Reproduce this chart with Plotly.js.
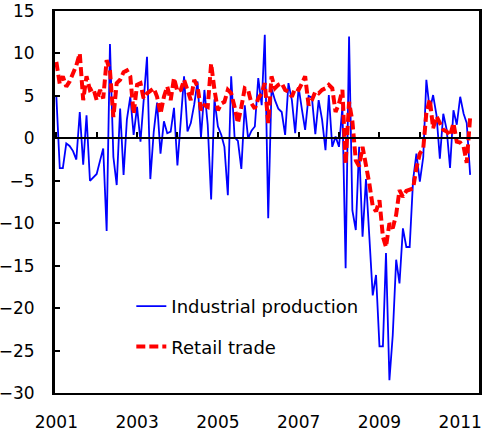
<!DOCTYPE html>
<html><head><meta charset="utf-8">
<script src="https://cdn.plot.ly/plotly-3.0.1.min.js"></script>
<style>html,body{margin:0;padding:0;background:#fff}#chart{width:485px;height:435px}</style>
</head><body><div id="chart"></div>
<script>
// Monthly series, Jan 2001 onwards (year-on-year % change)
const startYear = 2001;
const industrialProduction = [
  5.0, -3.5, -3.5, -0.6, -0.9, -1.5, -2.5, 3.1, -3.1, 2.7, -5.0, -4.6,
  -4.2, -2.6, -1.2, -10.9, 11.1, -2.2, -5.5, 3.5, -4.3, 2.2, 4.9, 0.4,
  3.7, -0.4, 4.1, 9.6, -4.8, 0.8, 4.2, -1.8, 2.0, 0.6, 0.8, 3.6,
  -3.2, 2.5, 7.3, 0.8, 1.8, 4.0, 6.7, 0.1, 5.7, 1.6, -7.2, 4.6,
  1.4, 0.4, -1.0, -6.7, 7.3, 0.1, -0.3, -3.6, 3.9, 0.0, 0.9, 1.4,
  7.1, 3.9, 12.2, -9.4, 5.9, 4.5, 3.5, 3.1, 0.4, 6.5, 4.5, 0.6,
  6.0, 3.3, 1.0, 5.0, 4.8, 0.5, 4.5, 2.2, -1.4, 5.1, -1.0, 0.2,
  -1.0, 3.7, -15.3, 12.0, -8.5, -10.8, -1.0, -11.6, -4.8, -11.5, -18.5, -16.1,
  -24.5, -24.5, -13.5, -28.5, -23.2, -14.3, -17.1, -10.6, -12.8, -12.8, -4.9, -1.8,
  -5.1, -2.2, 6.9, 3.3, 5.1, 2.7, -2.4, 2.9, 1.0, -3.5, 3.3, 1.6,
  4.9, 2.9, 1.8, -4.3
];
const retailTrade = [
  9.0, 6.4, 7.3, 6.1, 6.7, 7.6, 8.6, 10.0, 4.5, 7.3, 5.7, 5.9,
  4.5, 5.7, 4.7, 9.2, 8.0, 2.5, 6.5, 6.9, 7.8, 8.0, 7.3, 2.9,
  6.3, 6.5, 4.7, 5.3, 5.6, 5.9, 4.9, 2.9, 4.9, 6.1, 4.5, 7.1,
  5.5, 5.7, 6.9, 5.7, 4.5, 6.9, 6.1, 3.3, 3.9, 3.7, 8.8, 5.7,
  3.3, 4.1, 4.3, 5.7, 5.3, 3.7, 1.8, 3.7, 5.9, 5.7, 4.1, 3.5,
  4.7, 5.3, 6.5, 1.8, 7.3, 5.9, 6.3, 6.5, 5.7, 5.5, 4.9, 5.9,
  5.7, 6.5, 7.3, 3.9, 4.5, 5.5, 5.3, 5.7, 5.9, 6.3, 5.9, 3.1,
  4.1, 5.7, -3.0, 4.3, 2.0, -2.6, -3.3, -1.0, -2.9, -5.3, -8.0, -8.6,
  -7.3, -11.6, -12.8, -10.0, -10.6, -9.0, -6.1, -6.9, -6.2, -6.0, -5.9, -3.5,
  -1.8, -1.2, 3.0, 4.6, 1.2, 2.6, 1.8, 1.0, 0.8, 0.3, 1.8, -0.4,
  -0.5, -1.0, -2.9, 2.5
];
const seriesNames = ['Industrial production', 'Retail trade'];
const yearTickValues = ['2001-01-01', '2003-01-01', '2005-01-01', '2007-01-01', '2009-01-01', '2011-01-01'];
const yearTickLabels = ['2001', '2003', '2005', '2007', '2009', '2011'];
const yTickValues = [-30, -25, -20, -15, -10, -5, 0, 5, 10, 15];
const xRange = ['2000-12-20', '2011-06-20'];
const yRange = [-30, 15];

function monthDate(i) {
  const y = startYear + Math.floor(i / 12);
  const m = (i % 12) + 1;
  return y + '-' + String(m).padStart(2, '0') + '-01';
}
const months = industrialProduction.map((_, i) => monthDate(i));

const traces = [
  {
    x: months, y: industrialProduction, name: seriesNames[0],
    type: 'scatter', mode: 'lines', legendgroup: 'a',
    line: {color: '#0000FF', width: 1.8}
  },
  {
    x: months, y: retailTrade, name: seriesNames[1],
    type: 'scatter', mode: 'lines', legendgroup: 'b', xaxis: 'x2',
    line: {color: '#FF0000', width: 4, dash: '9px,4px'}
  }
];

const layout = {
  width: 485, height: 435,
  margin: {l: 55, r: 6, t: 11, b: 42, pad: 0},
  paper_bgcolor: '#ffffff', plot_bgcolor: '#ffffff',
  font: {family: 'DejaVu Sans, Arial, sans-serif', size: 17, color: '#000'},
  showlegend: true,
  legend: {
    x: 0.18, y: 0.275, xanchor: 'left', yanchor: 'top',
    bgcolor: 'rgba(0,0,0,0)', borderwidth: 0,
    font: {family: 'DejaVu Sans, Arial, sans-serif', size: 18, color: '#000'},
    traceorder: 'grouped', tracegroupgap: 14
  },
  xaxis: {
    type: 'date', range: xRange,
    tickmode: 'array', tickvals: yearTickValues, ticktext: yearTickLabels,
    ticks: '', showline: true, linewidth: 2, linecolor: '#000', mirror: true,
    showgrid: false, zeroline: false, ticklabelstandoff: 13,
    tickfont: {size: 17}
  },
  xaxis2: {
    type: 'date', range: xRange, overlaying: 'x', anchor: 'free',
    position: (0 - yRange[0]) / (yRange[1] - yRange[0]),
    showline: true, linewidth: 2, linecolor: '#000',
    ticks: 'inside', ticklen: 5, tickwidth: 2, tickcolor: '#000',
    dtick: 'M12', tick0: '2001-01-01',
    showticklabels: false, showgrid: false, zeroline: false
  },
  yaxis: {
    range: yRange, tickmode: 'array', tickvals: yTickValues,
    ticks: 'inside', ticklen: 5, tickwidth: 2, tickcolor: '#000',
    showline: true, linewidth: 3, linecolor: '#000', mirror: true,
    showgrid: false, zeroline: false, ticklabelstandoff: 14,
    tickfont: {size: 17}
  }
};

Plotly.newPlot('chart', traces, layout, {staticPlot: true, displayModeBar: false});
</script>
</body></html>
